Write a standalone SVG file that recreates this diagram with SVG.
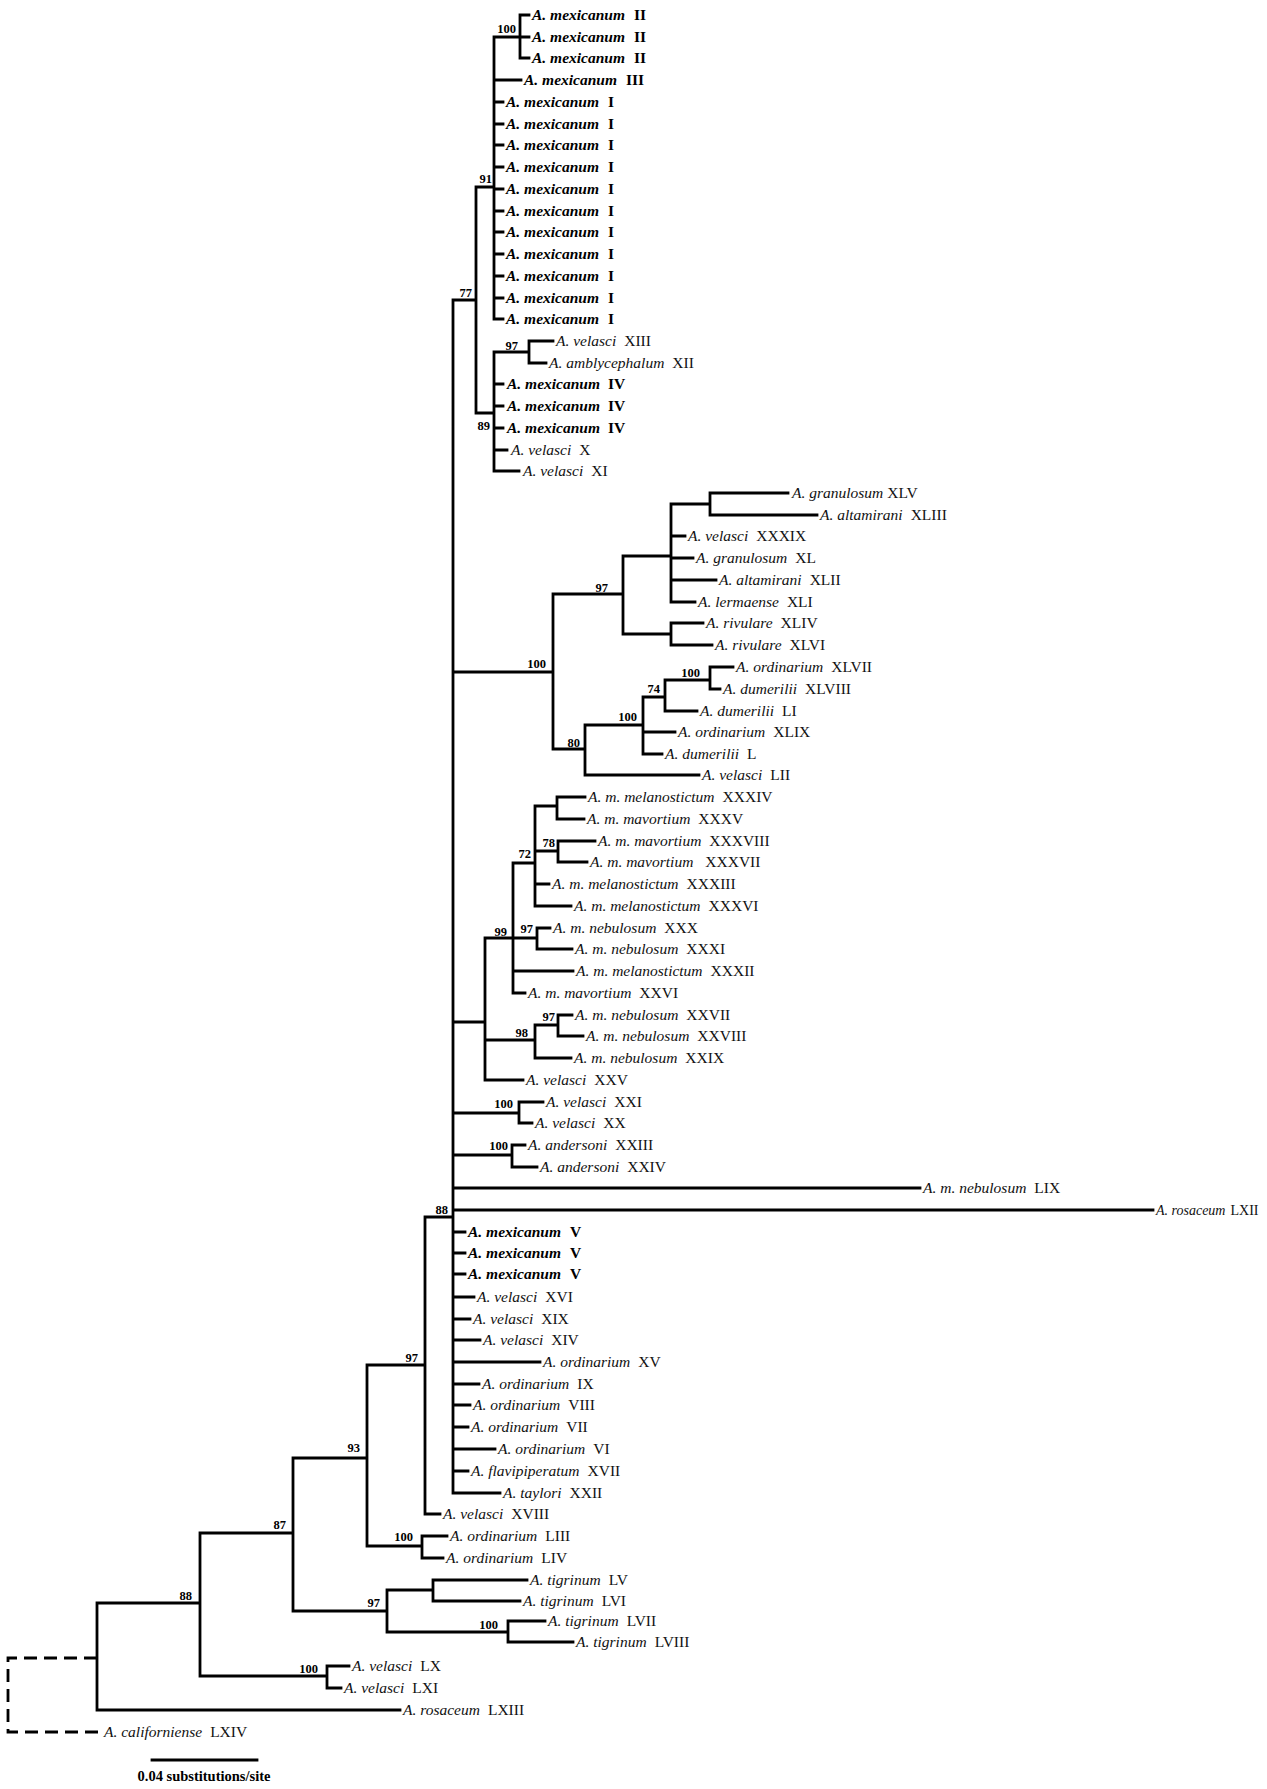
<svg xmlns="http://www.w3.org/2000/svg" width="1267" height="1789" viewBox="0 0 1267 1789">
<style>
.br{fill:none;stroke:#000;stroke-width:2.8;stroke-linecap:square;stroke-linejoin:miter}
.ds{fill:none;stroke:#000;stroke-width:2.8;stroke-dasharray:13 7}
text{font-family:"Liberation Serif","Times New Roman",serif;fill:#111}
.t{font-size:15.5px}
.b{font-size:15.5px;font-weight:bold;fill:#000}
.sm{font-size:14px}
.i{font-style:italic}
.s{font-size:12.5px;font-weight:bold;fill:#000;text-anchor:end}
.sc{font-size:14.5px;font-weight:bold;fill:#000;text-anchor:middle}
</style>
<rect width="1267" height="1789" fill="#fff"/>
<g id="connectors">
<path class="br" d="M520 15V58M494 37H520M520 15H529M520 37H529M520 58H529M494 80H521
M494 102H503M494 124H503M494 145H503M494 167H503M494 189H503M494 211H503M494 232H503M494 254H503M494 276H503M494 298H503M494 319H503
M494 37V319M476 187H494
M529 341V363M494 352H529M529 341H553M529 363H546
M494 384H503M494 406H503M494 428H503M494 450H507M494 471H519
M494 352V471M476 413H494
M476 187V413M453 300H476
M453 300V1493
M710 493V515M710 493H788M710 515H817M671 504H710
M671 504V602M671 536H685M671 558H693M671 580H716M671 602H695
M671 623V645M671 623H703M671 645H712M623 634H671
M623 556H671M623 556V634M553 594H623
M710 667V689M710 667H733M710 689H720M665 680H710
M665 680V711M665 711H697M643 697H665
M643 697V754M643 732H675M643 754H662M585 725H643
M585 725V775M585 775H699M553 749H585
M553 594V749M453 672H553
M557 797V819M557 797H585M557 819H584M535 806H557
M558 841V862M558 841H595M558 862H587M535 851H558
M535 806V906M535 884H549M535 906H571M513 863H535
M537 928V949M537 928H550M537 949H572M513 938H537
M513 863V993M513 971H573M513 993H525M485 938H513
M558 1015V1036M558 1015H572M558 1036H583M535 1025H558
M535 1025V1058M535 1058H571M485 1040H535
M485 938V1080M485 1080H523M453 1022H485
M519 1102V1123M519 1102H543M519 1123H532M453 1113H519
M512 1145V1167M512 1145H525M512 1167H537M453 1155H512
M453 1188H920M453 1210H1153
M453 1232H465M453 1253H465M453 1274H465M453 1297H474M453 1319H470M453 1340H480M453 1362H540M453 1384H479M453 1405H470M453 1427H468M453 1449H495M453 1471H468M453 1493H500
M425 1217H453M425 1217V1514M425 1514H440
M367 1365H425
M422 1536V1558M422 1536H447M422 1558H443M367 1546H422
M367 1365V1546M293 1458H367
M433 1580V1601M433 1580H527M433 1601H520M387 1590H433
M508 1621V1642M508 1621H545M508 1642H573M387 1632H508
M387 1590V1632M293 1611H387
M293 1458V1611M200 1533H293
M327 1666V1688M327 1666H349M327 1688H341M200 1676H327
M200 1533V1676M97 1603H200
M97 1603V1710M97 1710H400"/>
<path class="ds" d="M97 1658H8V1732H100"/>
</g>
<g id="support">
<text class="s" x="516" y="33">100</text>
<text class="s" x="492" y="183">91</text>
<text class="s" x="472" y="297">77</text>
<text class="s" x="518" y="350">97</text>
<text class="s" x="490" y="430">89</text>
<text class="s" x="546" y="668">100</text>
<text class="s" x="608" y="592">97</text>
<text class="s" x="580" y="747">80</text>
<text class="s" x="637" y="721">100</text>
<text class="s" x="660" y="693">74</text>
<text class="s" x="700" y="677">100</text>
<text class="s" x="531" y="858">72</text>
<text class="s" x="555" y="847">78</text>
<text class="s" x="507" y="936">99</text>
<text class="s" x="533" y="933">97</text>
<text class="s" x="528" y="1037">98</text>
<text class="s" x="555" y="1021">97</text>
<text class="s" x="513" y="1108">100</text>
<text class="s" x="508" y="1150">100</text>
<text class="s" x="448" y="1214">88</text>
<text class="s" x="418" y="1362">97</text>
<text class="s" x="413" y="1541">100</text>
<text class="s" x="360" y="1452">93</text>
<text class="s" x="286" y="1529">87</text>
<text class="s" x="380" y="1607">97</text>
<text class="s" x="498" y="1629">100</text>
<text class="s" x="192" y="1600">88</text>
<text class="s" x="318" y="1673">100</text>
</g>
<g id="leaves">
<g id="n1"><text class="b" x="532" y="20"><tspan class="i">A. mexicanum</tspan><tspan dx="9">II</tspan></text></g>
<g id="n2"><text class="b" x="532" y="42"><tspan class="i">A. mexicanum</tspan><tspan dx="9">II</tspan></text></g>
<g id="n3"><text class="b" x="532" y="63"><tspan class="i">A. mexicanum</tspan><tspan dx="9">II</tspan></text></g>
<g id="n4"><text class="b" x="524" y="85"><tspan class="i">A. mexicanum</tspan><tspan dx="9">III</tspan></text></g>
<g id="n5"><text class="b" x="506" y="107"><tspan class="i">A. mexicanum</tspan><tspan dx="9">I</tspan></text></g>
<g id="n6"><text class="b" x="506" y="129"><tspan class="i">A. mexicanum</tspan><tspan dx="9">I</tspan></text></g>
<g id="n7"><text class="b" x="506" y="150"><tspan class="i">A. mexicanum</tspan><tspan dx="9">I</tspan></text></g>
<g id="n8"><text class="b" x="506" y="172"><tspan class="i">A. mexicanum</tspan><tspan dx="9">I</tspan></text></g>
<g id="n9"><text class="b" x="506" y="194"><tspan class="i">A. mexicanum</tspan><tspan dx="9">I</tspan></text></g>
<g id="n10"><text class="b" x="506" y="216"><tspan class="i">A. mexicanum</tspan><tspan dx="9">I</tspan></text></g>
<g id="n11"><text class="b" x="506" y="237"><tspan class="i">A. mexicanum</tspan><tspan dx="9">I</tspan></text></g>
<g id="n12"><text class="b" x="506" y="259"><tspan class="i">A. mexicanum</tspan><tspan dx="9">I</tspan></text></g>
<g id="n13"><text class="b" x="506" y="281"><tspan class="i">A. mexicanum</tspan><tspan dx="9">I</tspan></text></g>
<g id="n14"><text class="b" x="506" y="303"><tspan class="i">A. mexicanum</tspan><tspan dx="9">I</tspan></text></g>
<g id="n15"><text class="b" x="506" y="324"><tspan class="i">A. mexicanum</tspan><tspan dx="9">I</tspan></text></g>
<g id="n16"><text class="t" x="556" y="346"><tspan class="i">A. velasci</tspan><tspan dx="8">XIII</tspan></text></g>
<g id="n17"><text class="t" x="549" y="368"><tspan class="i">A. amblycephalum</tspan><tspan dx="8">XII</tspan></text></g>
<g id="n18"><text class="b" x="507" y="389"><tspan class="i">A. mexicanum</tspan><tspan dx="8">IV</tspan></text></g>
<g id="n19"><text class="b" x="507" y="411"><tspan class="i">A. mexicanum</tspan><tspan dx="8">IV</tspan></text></g>
<g id="n20"><text class="b" x="507" y="433"><tspan class="i">A. mexicanum</tspan><tspan dx="8">IV</tspan></text></g>
<g id="n21"><text class="t" x="511" y="455"><tspan class="i">A. velasci</tspan><tspan dx="8">X</tspan></text></g>
<g id="n22"><text class="t" x="523" y="476"><tspan class="i">A. velasci</tspan><tspan dx="8">XI</tspan></text></g>
<g id="n23"><text class="t" x="792" y="498"><tspan class="i">A. granulosum</tspan><tspan dx="4">XLV</tspan></text></g>
<g id="n24"><text class="t" x="820" y="520"><tspan class="i">A. altamirani</tspan><tspan dx="8">XLIII</tspan></text></g>
<g id="n25"><text class="t" x="688" y="541"><tspan class="i">A. velasci</tspan><tspan dx="8">XXXIX</tspan></text></g>
<g id="n26"><text class="t" x="696" y="563"><tspan class="i">A. granulosum</tspan><tspan dx="8">XL</tspan></text></g>
<g id="n27"><text class="t" x="719" y="585"><tspan class="i">A. altamirani</tspan><tspan dx="8">XLII</tspan></text></g>
<g id="n28"><text class="t" x="698" y="607"><tspan class="i">A. lermaense</tspan><tspan dx="8">XLI</tspan></text></g>
<g id="n29"><text class="t" x="706" y="628"><tspan class="i">A. rivulare</tspan><tspan dx="8">XLIV</tspan></text></g>
<g id="n30"><text class="t" x="715" y="650"><tspan class="i">A. rivulare</tspan><tspan dx="8">XLVI</tspan></text></g>
<g id="n31"><text class="t" x="736" y="672"><tspan class="i">A. ordinarium</tspan><tspan dx="8">XLVII</tspan></text></g>
<g id="n32"><text class="t" x="723" y="694"><tspan class="i">A. dumerilii</tspan><tspan dx="8">XLVIII</tspan></text></g>
<g id="n33"><text class="t" x="700" y="716"><tspan class="i">A. dumerilii</tspan><tspan dx="8">LI</tspan></text></g>
<g id="n34"><text class="t" x="678" y="737"><tspan class="i">A. ordinarium</tspan><tspan dx="8">XLIX</tspan></text></g>
<g id="n35"><text class="t" x="665" y="759"><tspan class="i">A. dumerilii</tspan><tspan dx="8">L</tspan></text></g>
<g id="n36"><text class="t" x="702" y="780"><tspan class="i">A. velasci</tspan><tspan dx="8">LII</tspan></text></g>
<g id="n37"><text class="t" x="588" y="802"><tspan class="i">A. m. melanostictum</tspan><tspan dx="8">XXXIV</tspan></text></g>
<g id="n38"><text class="t" x="587" y="824"><tspan class="i">A. m. mavortium</tspan><tspan dx="8">XXXV</tspan></text></g>
<g id="n39"><text class="t" x="598" y="846"><tspan class="i">A. m. mavortium</tspan><tspan dx="8">XXXVIII</tspan></text></g>
<g id="n40"><text class="t" x="590" y="867"><tspan class="i">A. m. mavortium</tspan><tspan dx="12">XXXVII</tspan></text></g>
<g id="n41"><text class="t" x="552" y="889"><tspan class="i">A. m. melanostictum</tspan><tspan dx="8">XXXIII</tspan></text></g>
<g id="n42"><text class="t" x="574" y="911"><tspan class="i">A. m. melanostictum</tspan><tspan dx="8">XXXVI</tspan></text></g>
<g id="n43"><text class="t" x="553" y="933"><tspan class="i">A. m. nebulosum</tspan><tspan dx="8">XXX</tspan></text></g>
<g id="n44"><text class="t" x="575" y="954"><tspan class="i">A. m. nebulosum</tspan><tspan dx="8">XXXI</tspan></text></g>
<g id="n45"><text class="t" x="576" y="976"><tspan class="i">A. m. melanostictum</tspan><tspan dx="8">XXXII</tspan></text></g>
<g id="n46"><text class="t" x="528" y="998"><tspan class="i">A. m. mavortium</tspan><tspan dx="8">XXVI</tspan></text></g>
<g id="n47"><text class="t" x="575" y="1020"><tspan class="i">A. m. nebulosum</tspan><tspan dx="8">XXVII</tspan></text></g>
<g id="n48"><text class="t" x="586" y="1041"><tspan class="i">A. m. nebulosum</tspan><tspan dx="8">XXVIII</tspan></text></g>
<g id="n49"><text class="t" x="574" y="1063"><tspan class="i">A. m. nebulosum</tspan><tspan dx="8">XXIX</tspan></text></g>
<g id="n50"><text class="t" x="526" y="1085"><tspan class="i">A. velasci</tspan><tspan dx="8">XXV</tspan></text></g>
<g id="n51"><text class="t" x="546" y="1107"><tspan class="i">A. velasci</tspan><tspan dx="8">XXI</tspan></text></g>
<g id="n52"><text class="t" x="535" y="1128"><tspan class="i">A. velasci</tspan><tspan dx="8">XX</tspan></text></g>
<g id="n53"><text class="t" x="528" y="1150"><tspan class="i">A. andersoni</tspan><tspan dx="8">XXIII</tspan></text></g>
<g id="n54"><text class="t" x="540" y="1172"><tspan class="i">A. andersoni</tspan><tspan dx="8">XXIV</tspan></text></g>
<g id="n55"><text class="t" x="923" y="1193"><tspan class="i">A. m. nebulosum</tspan><tspan dx="8">LIX</tspan></text></g>
<g id="n56"><text class="t sm" x="1156" y="1215"><tspan class="i">A. rosaceum</tspan><tspan dx="5">LXII</tspan></text></g>
<g id="n57"><text class="b" x="468" y="1237"><tspan class="i">A. mexicanum</tspan><tspan dx="9">V</tspan></text></g>
<g id="n58"><text class="b" x="468" y="1258"><tspan class="i">A. mexicanum</tspan><tspan dx="9">V</tspan></text></g>
<g id="n59"><text class="b" x="468" y="1279"><tspan class="i">A. mexicanum</tspan><tspan dx="9">V</tspan></text></g>
<g id="n60"><text class="t" x="477" y="1302"><tspan class="i">A. velasci</tspan><tspan dx="8">XVI</tspan></text></g>
<g id="n61"><text class="t" x="473" y="1324"><tspan class="i">A. velasci</tspan><tspan dx="8">XIX</tspan></text></g>
<g id="n62"><text class="t" x="483" y="1345"><tspan class="i">A. velasci</tspan><tspan dx="8">XIV</tspan></text></g>
<g id="n63"><text class="t" x="543" y="1367"><tspan class="i">A. ordinarium</tspan><tspan dx="8">XV</tspan></text></g>
<g id="n64"><text class="t" x="482" y="1389"><tspan class="i">A. ordinarium</tspan><tspan dx="8">IX</tspan></text></g>
<g id="n65"><text class="t" x="473" y="1410"><tspan class="i">A. ordinarium</tspan><tspan dx="8">VIII</tspan></text></g>
<g id="n66"><text class="t" x="471" y="1432"><tspan class="i">A. ordinarium</tspan><tspan dx="8">VII</tspan></text></g>
<g id="n67"><text class="t" x="498" y="1454"><tspan class="i">A. ordinarium</tspan><tspan dx="8">VI</tspan></text></g>
<g id="n68"><text class="t" x="471" y="1476"><tspan class="i">A. flavipiperatum</tspan><tspan dx="8">XVII</tspan></text></g>
<g id="n69"><text class="t" x="503" y="1498"><tspan class="i">A. taylori</tspan><tspan dx="8">XXII</tspan></text></g>
<g id="n70"><text class="t" x="443" y="1519"><tspan class="i">A. velasci</tspan><tspan dx="8">XVIII</tspan></text></g>
<g id="n71"><text class="t" x="450" y="1541"><tspan class="i">A. ordinarium</tspan><tspan dx="8">LIII</tspan></text></g>
<g id="n72"><text class="t" x="446" y="1563"><tspan class="i">A. ordinarium</tspan><tspan dx="8">LIV</tspan></text></g>
<g id="n73"><text class="t" x="530" y="1585"><tspan class="i">A. tigrinum</tspan><tspan dx="8">LV</tspan></text></g>
<g id="n74"><text class="t" x="523" y="1606"><tspan class="i">A. tigrinum</tspan><tspan dx="8">LVI</tspan></text></g>
<g id="n75"><text class="t" x="548" y="1626"><tspan class="i">A. tigrinum</tspan><tspan dx="8">LVII</tspan></text></g>
<g id="n76"><text class="t" x="576" y="1647"><tspan class="i">A. tigrinum</tspan><tspan dx="8">LVIII</tspan></text></g>
<g id="n77"><text class="t" x="352" y="1671"><tspan class="i">A. velasci</tspan><tspan dx="8">LX</tspan></text></g>
<g id="n78"><text class="t" x="344" y="1693"><tspan class="i">A. velasci</tspan><tspan dx="8">LXI</tspan></text></g>
<g id="n79"><text class="t" x="403" y="1715"><tspan class="i">A. rosaceum</tspan><tspan dx="8">LXIII</tspan></text></g>
<g id="n80"><text class="t" x="104" y="1737"><tspan class="i">A. californiense</tspan><tspan dx="8">LXIV</tspan></text></g>
</g>
<g id="scale">
<path class="br" d="M152 1760H257"/>
<text class="sc" x="204" y="1781">0.04 substitutions/site</text>
</g>
</svg>
